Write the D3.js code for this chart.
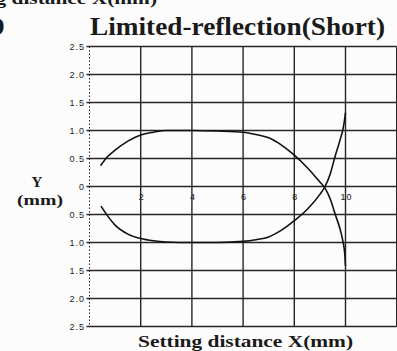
<!DOCTYPE html>
<html>
<head>
<meta charset="utf-8">
<script src="https://cdn.jsdelivr.net/npm/d3@7"></script>
<style>
  body { margin: 0; background: #fcfcfc; }
  svg { display: block; }
  .serif { font-family: "Liberation Serif", "Times New Roman", serif; font-weight: bold; fill: #1a1a1a; }
  .tick-text { font-family: "Liberation Sans", Arial, sans-serif; font-size: 9px; fill: #222; letter-spacing: 1px; }
</style>
</head>
<body>
<div class="chart"></div>
<script>
// Limited-reflection (Short) - detection area chart

var xTicks = [2, 4, 6, 8, 10];
var xGrid = [0, 2, 4, 6, 8, 10, 12];
var yTicks = [2.5, 2.0, 1.5, 1.0, 0.5, 0, -0.5, -1.0, -1.5, -2.0, -2.5];
var yTickLabels = ["2.5", "2.0", "1.5", "1.0", "0.5", "0", "0.5", "1.0", "1.5", "2.0", "2.5"];

// upper curve (starts above axis, ends below after crossing)
var upperX = [0.43, 0.7, 1.0, 1.5, 2.0, 2.5, 3.0, 4.0, 5.0, 6.0, 6.5, 7.0, 7.5, 8.0, 8.5, 9.0, 9.2, 9.4, 9.6, 9.8, 9.9, 9.97, 10.0];
var upperY = [0.37, 0.53, 0.65, 0.81, 0.92, 0.97, 1.0, 1.0, 0.99, 0.97, 0.93, 0.87, 0.74, 0.56, 0.34, 0.08, -0.03, -0.22, -0.5, -0.78, -0.98, -1.2, -1.42];
// lower curve
var lowerX = [0.45, 0.7, 1.0, 1.5, 2.0, 2.5, 3.0, 4.0, 5.0, 6.0, 6.5, 7.0, 7.5, 8.0, 8.5, 9.0, 9.2, 9.4, 9.6, 9.8, 9.9, 9.96, 10.0];
var lowerY = [-0.35, -0.52, -0.69, -0.85, -0.93, -0.97, -0.99, -1.0, -1.0, -0.98, -0.95, -0.9, -0.78, -0.61, -0.41, -0.14, 0.0, 0.22, 0.55, 0.85, 1.02, 1.18, 1.32];

var svg = d3.select(".chart").append("svg")
    .attr("width", 397)
    .attr("height", 351);

var x = d3.scaleLinear().domain([0, 12]).range([89.5, 396.7]);
var y = d3.scaleLinear().domain([-2.5, 2.5]).range([326.5, 46.5]);

// grid - horizontal
svg.selectAll(".hgrid")
    .data(yTicks)
    .enter().append("line")
    .attr("x1", x(0) - 3)
    .attr("x2", x(12))
    .attr("y1", function(d) { return y(d); })
    .attr("y2", function(d) { return y(d); })
    .style("stroke", "#262626")
    .style("stroke-width", 1.4);

// grid - vertical (left border dotted)
svg.selectAll(".vgrid")
    .data(xGrid)
    .enter().append("line")
    .attr("x1", function(d) { return x(d); })
    .attr("x2", function(d) { return x(d); })
    .attr("y1", y(2.5))
    .attr("y2", y(-2.5))
    .style("stroke", "#262626")
    .style("stroke-width", function(d) { return d == 0 ? 1 : 1.4; })
    .style("stroke-dasharray", function(d) { return d == 0 ? "1.5,2" : null; });

// y tick labels
svg.selectAll(".ylab")
    .data(yTicks)
    .enter().append("text")
    .attr("class", "tick-text")
    .text(function(d, i) { return yTickLabels[i]; })
    .attr("x", 85)
    .attr("y", function(d) { return y(d) + 3; })
    .attr("text-anchor", "end");

// x tick labels, sit just under the zero line
svg.selectAll(".xlab")
    .data(xTicks)
    .enter().append("text")
    .attr("class", "tick-text")
    .text(function(d) { return d; })
    .attr("x", function(d) { return x(d) + 1; })
    .attr("y", y(0) + 13)
    .attr("text-anchor", "middle");

// curves
var line = d3.line()
    .x(function(d) { return x(d[0]); })
    .y(function(d) { return y(d[1]); })
    .curve(d3.curveMonotoneX);

[[upperX, upperY], [lowerX, lowerY]].forEach(function(s) {
  svg.append("path")
      .datum(d3.zip(s[0], s[1]))
      .attr("d", line)
      .style("fill", "none")
      .style("stroke", "#111")
      .style("stroke-width", 1.6);
});

// title
svg.append("text")
    .attr("class", "serif")
    .text("Limited-reflection(Short)")
    .attr("x", 90)
    .attr("y", 35)
    .attr("textLength", 295)
    .attr("lengthAdjust", "spacingAndGlyphs")
    .style("font-size", "25px");

// cut off bits of the neighbouring chart in the scan
svg.append("text")
    .attr("class", "serif")
    .text("Setting distance X(mm)")
    .attr("x", -58)
    .attr("y", 4)
    .attr("textLength", 215)
    .attr("lengthAdjust", "spacingAndGlyphs")
    .style("font-size", "17px");

svg.append("text")
    .attr("class", "serif")
    .text("D")
    .attr("x", -14)
    .attr("y", 35)
    .style("font-size", "26px");

// axis titles
svg.append("text")
    .attr("class", "serif")
    .text("Y")
    .attr("x", 37)
    .attr("y", 187)
    .attr("text-anchor", "middle")
    .style("font-size", "15px");

svg.append("text")
    .attr("class", "serif")
    .text("(mm)")
    .attr("x", 17)
    .attr("y", 205)
    .attr("textLength", 46)
    .attr("lengthAdjust", "spacingAndGlyphs")
    .style("font-size", "15px");

svg.append("text")
    .attr("class", "serif")
    .text("Setting distance X(mm)")
    .attr("x", 138)
    .attr("y", 347)
    .attr("textLength", 215)
    .attr("lengthAdjust", "spacingAndGlyphs")
    .style("font-size", "17px");
</script>
</body>
</html>
